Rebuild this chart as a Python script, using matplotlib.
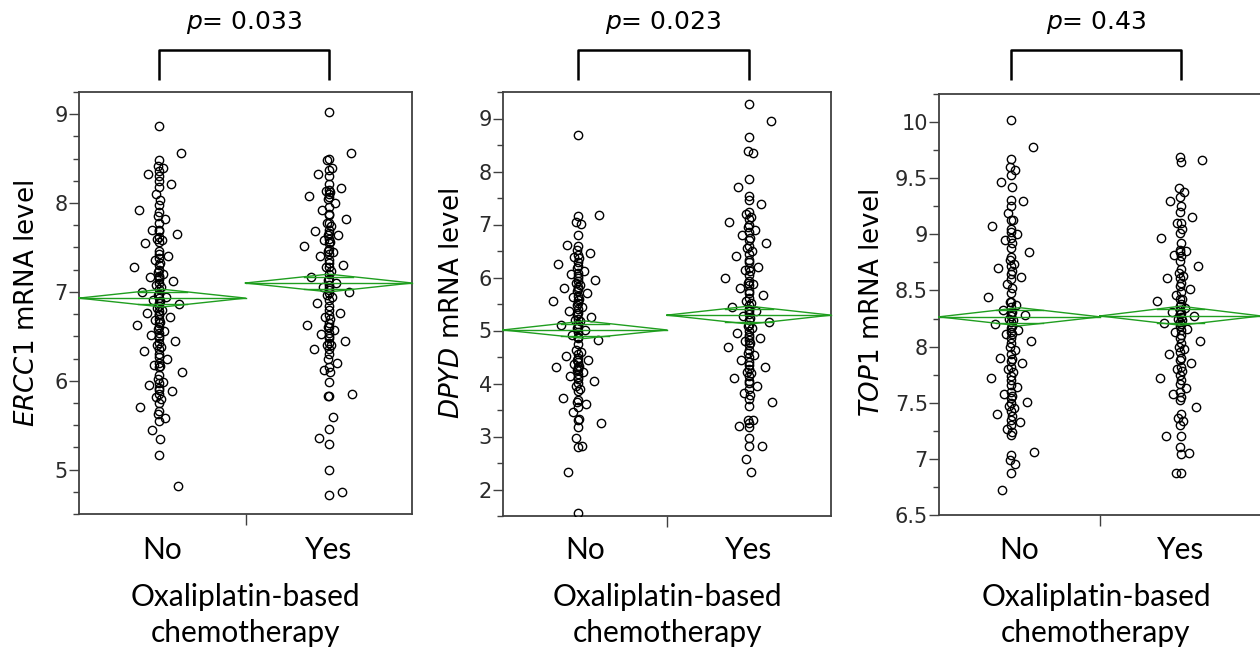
import numpy as np
import matplotlib
matplotlib.use("Agg")
import matplotlib.pyplot as plt
from matplotlib.ticker import MultipleLocator, FuncFormatter

# ---------------- data ----------------
groups = ["No", "Yes"]
genes = ["ERCC1", "DPYD", "TOP1"]
p_values = ["0.033", "0.023", "0.43"]

ercc1_no = [8.87, 8.56, 8.48, 8.42, 8.40, 8.36, 8.33, 8.30, 8.25, 8.21, 8.18, 8.10, 8.03, 7.98,
            7.92, 7.90, 7.85, 7.82, 7.78, 7.70, 7.70, 7.68, 7.65, 7.62, 7.60, 7.58, 7.56, 7.55,
            7.46, 7.43, 7.40, 7.38, 7.36, 7.33, 7.30, 7.28, 7.25, 7.22, 7.20, 7.18, 7.17, 7.17,
            7.15, 7.12, 7.10, 7.08, 7.05, 7.03, 7.00, 6.98, 6.96, 6.94, 6.93, 6.91, 6.90, 6.88,
            6.86, 6.84, 6.82, 6.80, 6.78, 6.76, 6.75, 6.74, 6.72, 6.70, 6.68, 6.66, 6.65, 6.63,
            6.60, 6.58, 6.56, 6.54, 6.52, 6.50, 6.48, 6.45, 6.42, 6.40, 6.38, 6.36, 6.33, 6.30,
            6.27, 6.25, 6.20, 6.18, 6.17, 6.15, 6.10, 6.07, 6.02, 5.99, 5.98, 5.95, 5.92, 5.90,
            5.88, 5.85, 5.82, 5.79, 5.75, 5.70, 5.66, 5.62, 5.58, 5.55, 5.44, 5.34, 5.16, 4.81]
ercc1_yes = [9.02, 8.56, 8.50, 8.48, 8.40, 8.37, 8.33, 8.30, 8.22, 8.17, 8.15, 8.14, 8.12, 8.10,
             8.08, 8.07, 8.05, 8.00, 7.95, 7.92, 7.88, 7.86, 7.82, 7.78, 7.77, 7.74, 7.70, 7.68,
             7.66, 7.64, 7.64, 7.60, 7.58, 7.56, 7.55, 7.52, 7.48, 7.46, 7.45, 7.43, 7.40, 7.36,
             7.32, 7.30, 7.28, 7.28, 7.24, 7.20, 7.17, 7.15, 7.13, 7.10, 7.08, 7.05, 7.04, 7.02,
             7.00, 6.99, 6.97, 6.94, 6.91, 6.88, 6.84, 6.80, 6.76, 6.74, 6.72, 6.69, 6.65, 6.63,
             6.61, 6.60, 6.57, 6.54, 6.53, 6.50, 6.48, 6.45, 6.42, 6.40, 6.40, 6.36, 6.36, 6.30,
             6.24, 6.20, 6.15, 6.12, 6.10, 5.99, 5.85, 5.83, 5.83, 5.59, 5.46, 5.36, 5.29, 5.00,
             4.75, 4.71]

dpyd_no = [8.69, 7.17, 7.16, 7.04, 7.01, 6.81, 6.62, 6.60, 6.51, 6.47, 6.43, 6.38, 6.36, 6.30,
           6.26, 6.22, 6.17, 6.12, 6.08, 6.06, 6.03, 6.00, 5.96, 5.93, 5.90, 5.86, 5.83, 5.81,
           5.78, 5.75, 5.70, 5.66, 5.64, 5.60, 5.58, 5.55, 5.51, 5.48, 5.45, 5.41, 5.36, 5.33,
           5.29, 5.26, 5.22, 5.20, 5.17, 5.13, 5.10, 5.07, 5.04, 5.01, 4.97, 4.92, 4.88, 4.86,
           4.82, 4.75, 4.63, 4.59, 4.56, 4.52, 4.49, 4.45, 4.44, 4.40, 4.37, 4.33, 4.32, 4.32,
           4.28, 4.25, 4.22, 4.18, 4.15, 4.12, 4.08, 4.05, 4.01, 3.96, 3.89, 3.85, 3.72, 3.69,
           3.66, 3.62, 3.55, 3.46, 3.33, 3.31, 3.25, 3.17, 2.98, 2.83, 2.80, 2.33, 1.56]
dpyd_yes = [9.28, 8.95, 8.65, 8.38, 8.34, 7.86, 7.71, 7.53, 7.46, 7.38, 7.23, 7.20, 7.15, 7.10,
            7.05, 7.00, 6.95, 6.90, 6.85, 6.80, 6.75, 6.70, 6.65, 6.60, 6.55, 6.50, 6.45, 6.40,
            6.33, 6.30, 6.20, 6.17, 6.15, 6.12, 6.05, 6.00, 5.94, 5.90, 5.88, 5.85, 5.80, 5.75,
            5.70, 5.67, 5.62, 5.56, 5.52, 5.48, 5.44, 5.40, 5.36, 5.36, 5.32, 5.28, 5.24, 5.20,
            5.16, 5.11, 5.08, 5.04, 5.00, 4.96, 4.92, 4.88, 4.86, 4.83, 4.80, 4.76, 4.72, 4.68,
            4.63, 4.58, 4.54, 4.50, 4.45, 4.40, 4.35, 4.32, 4.28, 4.22, 4.20, 4.15, 4.10, 4.05,
            4.01, 3.96, 3.90, 3.83, 3.78, 3.70, 3.65, 3.58, 3.31, 3.31, 3.25, 3.20, 3.17, 2.98,
            2.83, 2.83, 2.58, 2.33]

top1_no = [10.02, 9.78, 9.67, 9.60, 9.57, 9.53, 9.47, 9.42, 9.31, 9.30, 9.25, 9.19, 9.13, 9.13,
           9.07, 9.05, 9.02, 9.00, 8.97, 8.95, 8.92, 8.88, 8.84, 8.80, 8.77, 8.74, 8.72, 8.70,
           8.67, 8.65, 8.62, 8.60, 8.56, 8.52, 8.48, 8.44, 8.40, 8.40, 8.37, 8.35, 8.33, 8.31,
           8.30, 8.28, 8.27, 8.25, 8.24, 8.22, 8.20, 8.18, 8.17, 8.15, 8.13, 8.11, 8.11, 8.08,
           8.05, 8.03, 8.00, 7.97, 7.93, 7.90, 7.89, 7.87, 7.85, 7.82, 7.80, 7.77, 7.74, 7.72,
           7.70, 7.66, 7.64, 7.60, 7.58, 7.56, 7.54, 7.51, 7.50, 7.47, 7.45, 7.43, 7.40, 7.38,
           7.35, 7.33, 7.30, 7.27, 7.24, 7.21, 7.06, 7.03, 6.99, 6.95, 6.87, 6.72]
top1_yes = [9.69, 9.66, 9.64, 9.41, 9.38, 9.33, 9.30, 9.25, 9.20, 9.15, 9.10, 9.10, 9.05, 9.01,
            8.97, 8.92, 8.86, 8.85, 8.84, 8.82, 8.81, 8.76, 8.72, 8.69, 8.66, 8.63, 8.61, 8.61,
            8.57, 8.54, 8.51, 8.49, 8.46, 8.42, 8.42, 8.41, 8.38, 8.36, 8.34, 8.33, 8.31, 8.30,
            8.29, 8.27, 8.26, 8.25, 8.24, 8.22, 8.21, 8.20, 8.18, 8.16, 8.15, 8.13, 8.10, 8.08,
            8.05, 8.03, 8.00, 7.98, 7.95, 7.93, 7.90, 7.88, 7.85, 7.82, 7.80, 7.78, 7.75, 7.72,
            7.70, 7.67, 7.63, 7.60, 7.58, 7.55, 7.52, 7.46, 7.40, 7.36, 7.34, 7.30, 7.20, 7.20,
            7.11, 7.05, 7.04, 6.87, 6.87]

# means diamonds: mean, lower CI, upper CI  (No, Yes)
ercc1_mean = [6.93, 7.10]
ercc1_lo = [6.83, 7.00]
ercc1_hi = [7.03, 7.20]
dpyd_mean = [5.01, 5.29]
dpyd_lo = [4.85, 5.12]
dpyd_hi = [5.18, 5.46]
top1_mean = [8.265, 8.273]
top1_lo = [8.185, 8.19]
top1_hi = [8.347, 8.36]

# ---------------- layout / style ----------------
W, H = 1260, 652
fig = plt.figure(figsize=(W / 100, H / 100), dpi=100)

panels = [
    dict(box=(79, 412, 92, 514), ylim=(4.5, 9.25), major=1.0, minor=0.25,
         data=[ercc1_no, ercc1_yes], mean=ercc1_mean, lo=ercc1_lo, hi=ercc1_hi,
         shift=-0.02, ylab_x=27, right_spine=True, xlab=245),
    dict(box=(503, 831, 92, 516), ylim=(1.5, 9.5), major=1.0, minor=0.5,
         data=[dpyd_no, dpyd_yes], mean=dpyd_mean, lo=dpyd_lo, hi=dpyd_hi,
         shift=-0.045, ylab_x=452, right_spine=True, xlab=667),
    dict(box=(939, 1261, 94, 515), ylim=(6.5, 10.25), major=0.5, minor=0.25,
         data=[top1_no, top1_yes], mean=top1_mean, lo=top1_lo, hi=top1_hi,
         shift=-0.05, ylab_x=872, right_spine=False, xlab=1096),
]

GREEN = "#1f9e1f"
SPINE = "#404040"
TICKFONT = "DejaVu Sans"
LABFONT = "Lato"


def jitter(n, width):
    k = np.arange(n)
    u = (k * 0.6180339887 + 0.37) % 1.0
    return width * (2 * u - 1) ** 5


for i, pdict in enumerate(panels):
    l, r, t, b = pdict["box"]
    ax = fig.add_axes([l / W, 1 - b / H, (r - l) / W, (b - t) / H])
    ax.set_xlim(-0.5, 1.5)
    ax.set_ylim(*pdict["ylim"])

    # points
    for g, vals in enumerate(pdict["data"]):
        vals = np.asarray(vals)
        xs = g + (pdict["shift"] if g == 0 else 0.0) + jitter(len(vals), 0.15)
        ax.plot(xs, vals, linestyle="none", marker="o", markersize=6.0,
                markerfacecolor="none", markeredgecolor="black", markeredgewidth=1.0,
                zorder=3)

    # means diamonds
    for g in range(2):
        m, lo, hi = pdict["mean"][g], pdict["lo"][g], pdict["hi"][g]
        dx = [g - 0.5, g, g + 0.5, g, g - 0.5]
        dy = [m, hi, m, lo, m]
        ax.plot(dx, dy, color=GREEN, lw=1.0, zorder=4, clip_on=False)
        ax.plot([g - 0.5, g + 0.5], [m, m], color=GREEN, lw=1.0, zorder=4, clip_on=False)
        # overlap marks
        ov = (hi - m) / np.sqrt(2)
        half = 0.5 * (1 - 1 / np.sqrt(2))
        for s in (1, -1):
            ax.plot([g - half, g + half], [m + s * ov, m + s * ov], color=GREEN,
                    lw=1.0, zorder=4)

    # spines
    for side in ["left", "bottom", "top", "right"]:
        ax.spines[side].set_color(SPINE)
        ax.spines[side].set_linewidth(1.3)
    if not pdict["right_spine"]:
        ax.spines["right"].set_visible(False)

    # y ticks
    ax.yaxis.set_major_locator(MultipleLocator(pdict["major"]))
    ax.yaxis.set_minor_locator(MultipleLocator(pdict["minor"]))
    ax.yaxis.set_major_formatter(FuncFormatter(lambda v, pos: "%g" % v))
    ax.tick_params(axis="y", which="major", length=7, width=1.0, color=SPINE,
                   labelsize=15, labelcolor="#2a2a2a", pad=1)
    ax.tick_params(axis="y", which="minor", length=4, width=1.0, color=SPINE)
    for lab in ax.get_yticklabels():
        lab.set_fontfamily(TICKFONT)

    # x ticks: one tick between categories, no labels
    ax.set_xticks([0.5])
    ax.set_xticklabels([""])
    ax.tick_params(axis="x", which="major", length=8, width=1.0, color=SPINE)

    # category labels
    trans = ax.get_xaxis_transform()
    for g, name in enumerate(groups):
        ax.text(g, 1 - (550 - t) / (b - t), name, transform=trans, ha="center",
                va="center", fontsize=21.5, family=LABFONT, color="black")

    fig.text(pdict["xlab"] / W, 1 - 597 / H, "Oxaliplatin-based",
             ha="center", va="center", fontsize=21.5, family=LABFONT)
    fig.text(pdict["xlab"] / W, 1 - 633 / H, "chemotherapy",
             ha="center", va="center", fontsize=21.5, family=LABFONT)

    # y label with italic gene name
    fig.text(pdict["ylab_x"] / W, 1 - 303 / H,
             r"$\mathit{%s}$ mRNA level" % genes[i], rotation=90, ha="center",
             va="center", fontsize=18.8, family=TICKFONT)

    # significance bracket
    x0 = 0 + pdict["shift"]
    x1 = 1.0
    ytop = 1 + (t - 50) / (b - t)
    ybot = 1 + (t - 80) / (b - t)
    ax.plot([x0, x0, x1, x1], [ybot, ytop, ytop, ybot], transform=trans,
            color="black", lw=1.8, clip_on=False, solid_capstyle="butt")
    ax.text((x0 + x1) / 2, 1 + (t - 23) / (b - t), r"$\mathit{p}$= " + p_values[i],
            transform=trans, ha="center", va="center", fontsize=18, family=TICKFONT)

fig.savefig("out.png", dpi=100)
